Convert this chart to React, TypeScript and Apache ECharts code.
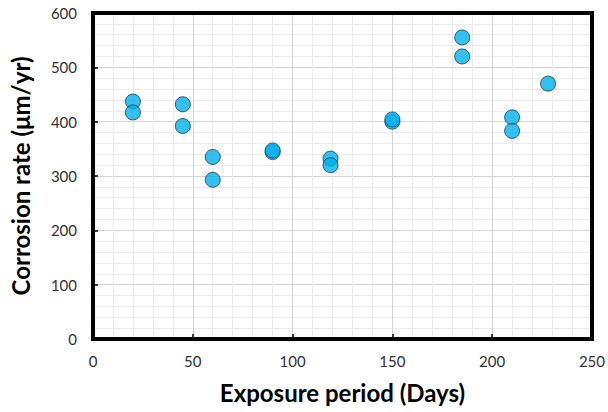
import React, { useEffect, useRef } from "react";
import * as echarts from "echarts";

// Exposure time of each coupon (days) and its measured corrosion rate (µm/yr)
const exposureDays = [20, 20, 45, 45, 60, 60, 90, 90, 119, 119, 150, 150, 185, 185, 210, 210, 228];
const corrosionRates = [437, 417, 432, 392, 335, 293, 344, 347, 332, 320, 400, 404, 555, 520, 408, 383, 470];

const xTicks = [0, 50, 100, 150, 200, 250];
const yTicks = [0, 100, 200, 300, 400, 500, 600];

const FONT = "Lato, 'Open Sans', sans-serif";
const frameLine = () => ({ show: true, onZero: false, lineStyle: { color: "#000000", width: 4, cap: "square" } });

export default function App() {
  const ref = useRef<HTMLDivElement>(null);

  useEffect(() => {
    if (!ref.current) return;
    const chart = echarts.init(ref.current, undefined, { renderer: "svg" });
    const points = exposureDays.map((d, i) => [d, corrosionRates[i]]);
    const xMin = xTicks[0];
    const xMax = xTicks[xTicks.length - 1];
    const yMin = yTicks[0];
    const yMax = yTicks[yTicks.length - 1];

    chart.setOption({
      animation: false,
      backgroundColor: "#ffffff",
      grid: { left: 93, right: 15, top: 13, bottom: 73 },
      xAxis: [
        {
          type: "value",
          min: xMin,
          max: xMax,
          interval: 50,
          name: "Exposure period (Days)",
          nameLocation: "middle",
          nameGap: 41,
          nameTextStyle: { fontFamily: FONT, fontWeight: "bold", fontSize: 24, color: "#000" },
          axisLine: frameLine(),
          axisTick: { show: true, inside: true, length: 5, lineStyle: { color: "#000", width: 1.5 } },
          axisLabel: { margin: 14, fontFamily: FONT, fontSize: 15, color: "#333333" },
          splitLine: { show: true, lineStyle: { color: "#d4d4d4", width: 1 } },
          minorTick: { show: false, splitNumber: 5 },
          minorSplitLine: { show: true, lineStyle: { color: "#ececec", width: 1 } },
          z: 5,
        },
        {
          // top edge of the plot frame
          type: "value",
          position: "top",
          min: xMin,
          max: xMax,
          interval: 50,
          axisLine: frameLine(),
          axisTick: { show: false },
          axisLabel: { show: false },
          splitLine: { show: false },
          z: 5,
        },
      ],
      yAxis: [
        {
          type: "value",
          min: yMin,
          max: yMax,
          interval: 100,
          name: "Corrosion rate (μm/yr)",
          nameLocation: "middle",
          nameGap: 61,
          nameTextStyle: { fontFamily: FONT, fontWeight: "bold", fontSize: 24, color: "#000" },
          axisLine: frameLine(),
          axisTick: { show: true, inside: true, length: 5, lineStyle: { color: "#000", width: 1.5 } },
          axisLabel: { margin: 16, fontFamily: FONT, fontSize: 15, color: "#333333" },
          splitLine: { show: true, lineStyle: { color: "#d4d4d4", width: 1 } },
          minorTick: { show: false, splitNumber: 5 },
          minorSplitLine: { show: true, lineStyle: { color: "#ececec", width: 1 } },
          z: 5,
        },
        {
          // right edge of the plot frame
          type: "value",
          position: "right",
          min: yMin,
          max: yMax,
          interval: 100,
          axisLine: frameLine(),
          axisTick: { show: false },
          axisLabel: { show: false },
          splitLine: { show: false },
          z: 5,
        },
      ],
      series: [
        {
          type: "scatter",
          xAxisIndex: 0,
          yAxisIndex: 0,
          data: points,
          symbol: "circle",
          symbolSize: 15,
          itemStyle: { color: "#00b0f0", borderColor: "#1d3b4d", borderWidth: 1 },
          z: 10,
        },
      ],
    });

    return () => chart.dispose();
  }, []);

  return (
    <div
      ref={ref}
      style={{ position: "fixed", left: 0, top: 0, width: 608, height: 412, background: "#fff" }}
    />
  );
}
